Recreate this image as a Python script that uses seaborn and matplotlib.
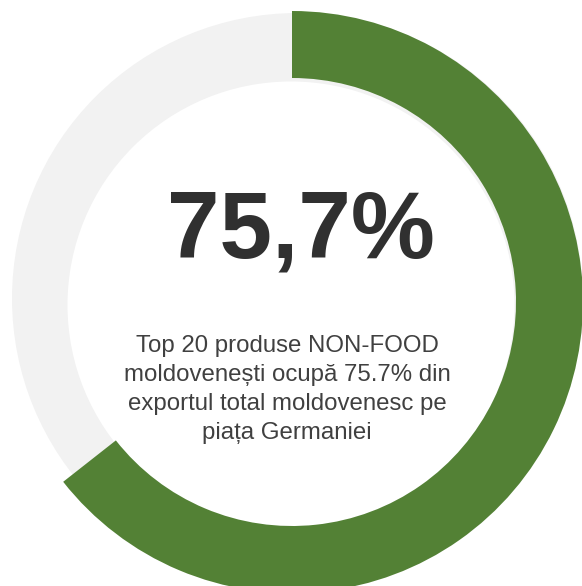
import matplotlib
matplotlib.use('Agg')
import matplotlib.pyplot as plt
import seaborn as sns
from matplotlib.patches import Circle

# Data
segments = ['NON-FOOD top 20', 'rest']
shares = [64.4, 35.6]          # share of the ring drawn in green vs. the rest
headline = '75,7%'
caption_lines = [
    'Top 20 produse NON-FOOD',
    'moldovenești ocupă 75.7% din',
    'exportul total moldovenesc pe',
    'piața Germaniei',
]

green = '#538135'
track = '#F2F2F2'

sns.set_theme(style='white')
plt.rcParams['font.family'] = ['Liberation Sans', 'DejaVu Sans']

W, H = 582, 586
fig = plt.figure(figsize=(W / 100, H / 100), dpi=100)
ax = fig.add_axes([0, 0, 1, 1])

# grey track behind the ring, then the white hole
ax.add_patch(Circle((297.5, H - 298.5), 285.5, color=track, lw=0, zorder=0))
ax.add_patch(Circle((291, H - 305), 223.5, color='white', lw=0, zorder=1))

# the ring itself
wedges, _ = ax.pie(shares, colors=[green, 'none'], startangle=90, counterclock=False,
                   center=(292, H - 302), radius=291,
                   wedgeprops=dict(width=67, linewidth=0))
for w in wedges:
    w.set_zorder(2)

ax.set_xlim(0, W)
ax.set_ylim(0, H)
ax.set_aspect('equal')
ax.axis('off')
sns.despine(left=True, bottom=True)

# big number
ax.text(301, H - 258, headline, ha='center', va='baseline', fontsize=68,
        fontweight='bold', color='#303030', zorder=3)

# caption
for i, line in enumerate(caption_lines):
    ax.text(287, H - (352 + i * 29), line, ha='center', va='baseline',
            fontsize=17.3, color='#404040', zorder=3)

fig.savefig('out.png', dpi=100, facecolor='white')
